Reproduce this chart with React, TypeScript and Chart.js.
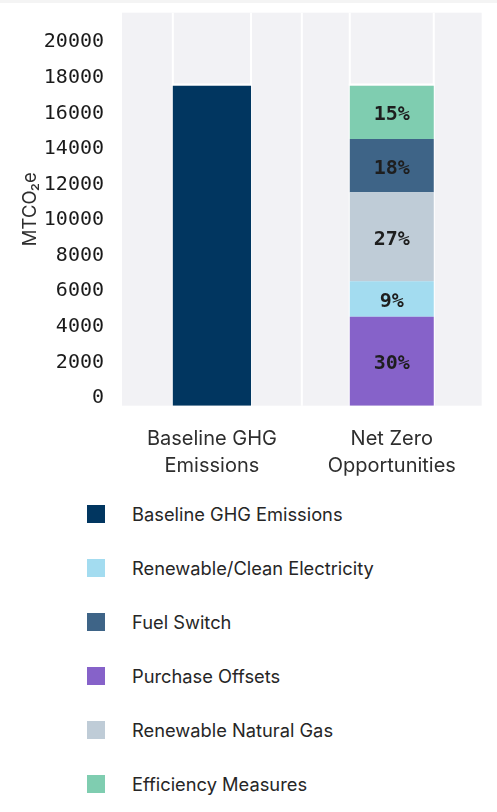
import React, { useEffect, useRef } from "react";
import { Chart, registerables } from "chart.js";

Chart.register(...registerables);

// ---------- data ----------
const categories: string[][] = [
  ["Baseline GHG", "Emissions"],
  ["Net Zero", "Opportunities"],
];

const baselineName = "Baseline GHG Emissions";
const baselineValues: (number | null)[] = [18000, null];
const baselineColor = "#013660";

// Net Zero stack, bottom to top
const stackNames = [
  "Purchase Offsets",
  "Renewable/Clean Electricity",
  "Renewable Natural Gas",
  "Fuel Switch",
  "Efficiency Measures",
];
const stackValues = [5000, 2000, 5000, 3000, 3000];
const stackPercents = ["30%", "9%", "27%", "18%", "15%"];
const stackColors = ["#8662c9", "#a3dcf0", "#bfccd7", "#3e6487", "#7fcdb0"];

const legendOrder = [
  "Baseline GHG Emissions",
  "Renewable/Clean Electricity",
  "Fuel Switch",
  "Purchase Offsets",
  "Renewable Natural Gas",
  "Efficiency Measures",
];

const yTickValues = [0, 2000, 4000, 6000, 8000, 10000, 12000, 14000, 16000, 18000, 20000];
const yMax = 22100;
const yTitle = "MTCO\u2082e";

// ---------- helpers ----------
const colorOf = (name: string) =>
  name === baselineName ? baselineColor : stackColors[stackNames.indexOf(name)];

const decoPlugin = {
  id: "deco",
  beforeDatasetsDraw(chart: any) {
    const { ctx, chartArea: a } = chart;
    ctx.save();
    ctx.fillStyle = "#f2f2f5";
    ctx.fillRect(a.left, a.top, a.right - a.left, a.bottom - a.top);
    const xs: number[] = [];
    const xScale = chart.scales.x;
    for (let i = 1; i < categories.length; i++) {
      xs.push((xScale.getPixelForValue(i - 1) + xScale.getPixelForValue(i)) / 2);
    }
    chart.data.datasets.forEach((ds: any, di: number) => {
      const meta = chart.getDatasetMeta(di);
      meta.data.forEach((el: any, j: number) => {
        if (ds.data[j] == null) return;
        const p = el.getProps(["x", "width"], true);
        xs.push(p.x - p.width / 2, p.x + p.width / 2);
      });
    });
    ctx.strokeStyle = "#ffffff";
    ctx.lineWidth = 2;
    const seen = new Set<number>();
    xs.forEach((x) => {
      const k = Math.round(x);
      if (seen.has(k)) return;
      seen.add(k);
      ctx.beginPath();
      ctx.moveTo(x, a.top);
      ctx.lineTo(x, a.bottom);
      ctx.stroke();
    });
    ctx.restore();
  },
  afterDatasetsDraw(chart: any) {
    const { ctx } = chart;
    ctx.save();
    // white cap line on top of each bar
    ctx.strokeStyle = "#ffffff";
    ctx.lineWidth = 2;
    const tops: any[] = [chart.getDatasetMeta(0).data[0]];
    tops.push(chart.getDatasetMeta(chart.data.datasets.length - 1).data[1]);
    tops.forEach((el: any) => {
      const p = el.getProps(["x", "y", "width"], true);
      ctx.beginPath();
      ctx.moveTo(p.x - p.width / 2 - 1, p.y - 1);
      ctx.lineTo(p.x + p.width / 2 + 1, p.y - 1);
      ctx.stroke();
    });
    // percentage labels
    ctx.fillStyle = "#1e1e1e";
    ctx.font = "bold 20px 'DejaVu Sans Mono', monospace";
    ctx.textAlign = "center";
    ctx.textBaseline = "middle";
    stackNames.forEach((_, si) => {
      const el = chart.getDatasetMeta(si + 1).data[1];
      const p = el.getProps(["x", "y", "base"], true);
      ctx.fillText(stackPercents[si], p.x, (p.y + p.base) / 2 + 3);
    });
    ctx.restore();
  },
};

function BarChart() {
  const ref = useRef<HTMLCanvasElement | null>(null);
  useEffect(() => {
    if (!ref.current) return;
    const datasets: any[] = [
      {
        label: baselineName,
        data: baselineValues,
        backgroundColor: baselineColor,
        borderWidth: 0,
        barPercentage: 0.435,
        stack: "s",
      },
      ...stackNames.map((name, i) => ({
        label: name,
        data: [null, stackValues[i]],
        backgroundColor: stackColors[i],
        borderWidth: 0,
        barPercentage: 0.467,
        stack: "s",
      })),
    ];
    const chart = new Chart(ref.current, {
      type: "bar",
      data: { labels: categories as any, datasets },
      plugins: [decoPlugin as any],
      options: {
        animation: false,
        responsive: true,
        maintainAspectRatio: false,
        layout: { padding: { top: 4.7, right: 7.3, bottom: 0, left: 0 } },
        plugins: { legend: { display: false }, tooltip: { enabled: false } },
        datasets: { bar: { categoryPercentage: 1 } } as any,
        scales: {
          x: {
            stacked: true,
            grid: { display: false },
            border: { display: false },
            ticks: {
              color: "#2e2e2e",
              font: { family: "Inter", size: 20, lineHeight: 1.38 },
              padding: 11,
              maxRotation: 0,
              autoSkip: false,
            },
            afterFit: (s: any) => {
              s.height = 81.3;
              s.paddingLeft = 0;
              s.paddingRight = 0;
            },
          },
          y: {
            stacked: true,
            min: 0,
            max: yMax,
            grid: { display: false },
            border: { display: false },
            afterBuildTicks: (s: any) => {
              s.ticks = yTickValues.map((v) => ({ value: v }));
            },
            ticks: {
              color: "#1a1a1a",
              font: { family: "'DejaVu Sans Mono'", size: 20 },
              padding: 10,
              labelOffset: -7.8,
              callback: (v: any) => String(v),
            },
            title: {
              display: true,
              text: yTitle,
              color: "#2e2e2e",
              font: { family: "Inter", size: 18.5 },
              padding: { top: 11, bottom: 0 },
            },
            afterFit: (s: any) => {
              s.width = 114;
              s.paddingTop = 0;
              s.paddingBottom = 0;
            },
          },
        },
      },
    });
    return () => chart.destroy();
  }, []);
  return (
    <div style={{ position: "relative", width: 481, height: 479 }}>
      <canvas ref={ref} />
    </div>
  );
}

export default function App() {
  return (
    <div style={{ fontFamily: "Inter, sans-serif" }}>
      <div
        style={{
          position: "fixed",
          top: 0,
          left: 0,
          right: 0,
          height: 3,
          background: "#f4f4f4",
        }}
      />
      <BarChart />
      <div>
        {legendOrder.map((name) => (
          <div
            key={name}
            style={{ display: "flex", alignItems: "center", height: 54 }}
          >
            <div
              style={{
                marginLeft: 79,
                width: 18,
                height: 18,
                background: colorOf(name),
              }}
            />
            <div
              style={{
                marginLeft: 27,
                fontSize: 18.3,
                color: "#262626",
                whiteSpace: "nowrap",
              }}
            >
              {name}
            </div>
          </div>
        ))}
      </div>
    </div>
  );
}
